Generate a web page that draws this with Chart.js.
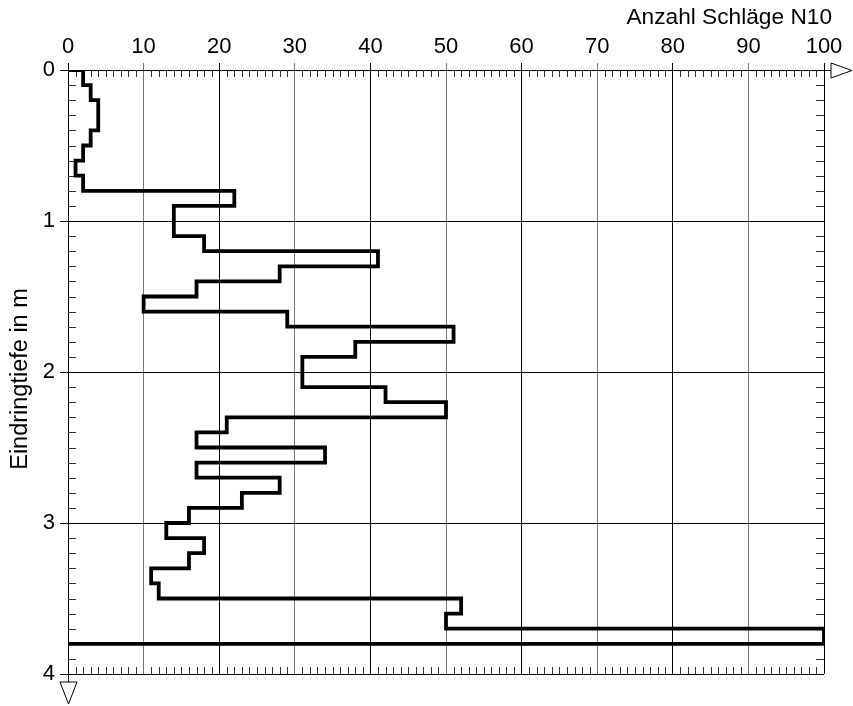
<!DOCTYPE html>
<html lang="de">
<head>
    <meta charset="UTF-8">
    <title>Rammsondierung</title>
    <script src="https://cdn.jsdelivr.net/npm/chart.js"></script>
    <style>
        html, body { margin: 0; padding: 0; background: #fff; }
        .chart-box { width: 853px; height: 706px; }
    </style>
</head>
<body>
    <div class="chart-box">
        <canvas id="sondierung"></canvas>
    </div>

    <script>
        // Oberkante jeder 10-cm-Schicht (m) und Schlagzahl N10
        const depthTop = [0.0, 0.1, 0.2, 0.3, 0.4, 0.5, 0.6, 0.7, 0.8, 0.9,
                          1.0, 1.1, 1.2, 1.3, 1.4, 1.5, 1.6, 1.7, 1.8, 1.9,
                          2.0, 2.1, 2.2, 2.3, 2.4, 2.5, 2.6, 2.7, 2.8, 2.9,
                          3.0, 3.1, 3.2, 3.3, 3.4, 3.5, 3.6, 3.7];
        const layerHeight = 0.1;
        const blows = [2, 3, 4, 4, 3, 2, 1, 2, 22, 14,
                       14, 18, 41, 28, 17, 10, 29, 51, 38, 31,
                       31, 42, 50, 21, 17, 34, 17, 28, 23, 16,
                       13, 18, 16, 11, 12, 52, 50, 100];
        const xTicks = [0, 10, 20, 30, 40, 50, 60, 70, 80, 90, 100];
        const yTicks = [0, 1, 2, 3, 4];

        const FONT = "'Liberation Sans', Arial, sans-serif";

        // Treppenlinie aus den Schichten aufbauen
        const points = [{ x: 0, y: depthTop[0] }];
        blows.forEach((n, i) => {
            points.push({ x: n, y: depthTop[i] });
            points.push({ x: n, y: depthTop[i] + layerHeight });
        });
        points.push({ x: 0, y: depthTop[depthTop.length - 1] + layerHeight });

        // Feinteilung, Pfeile und Achsentitel
        const decorations = {
            id: 'decorations',
            beforeDatasetsDraw(chart) {
                const { ctx, chartArea: a, scales: { x, y } } = chart;
                ctx.save();
                ctx.strokeStyle = '#333';
                ctx.lineWidth = 1;
                ctx.beginPath();
                for (let v = 1; v < 100; v++) {
                    if (v % 10 === 0) continue;
                    const px = Math.round(x.getPixelForValue(v)) + 0.5;
                    ctx.moveTo(px, a.top);
                    ctx.lineTo(px, a.top + 7);
                    ctx.moveTo(px, a.bottom);
                    ctx.lineTo(px, a.bottom - 7);
                }
                for (let k = 1; k < 40; k++) {
                    if (k % 10 === 0) continue;
                    const py = Math.round(y.getPixelForValue(k / 10)) + 0.5;
                    ctx.moveTo(a.left, py);
                    ctx.lineTo(a.left + 8, py);
                    ctx.moveTo(a.right, py);
                    ctx.lineTo(a.right - 8, py);
                }
                ctx.stroke();
                ctx.restore();
            },
            afterDraw(chart) {
                const { ctx, chartArea: a } = chart;
                ctx.save();
                ctx.strokeStyle = '#000';
                ctx.fillStyle = '#fff';
                ctx.lineWidth = 1;

                // Pfeil rechts
                ctx.beginPath();
                ctx.moveTo(a.right, a.top + 0.5);
                ctx.lineTo(a.right + 7, a.top + 0.5);
                ctx.stroke();
                ctx.beginPath();
                ctx.moveTo(a.right + 7, a.top - 7);
                ctx.lineTo(a.right + 28, a.top + 0.5);
                ctx.lineTo(a.right + 7, a.top + 8);
                ctx.closePath();
                ctx.fill();
                ctx.stroke();

                // Pfeil unten
                ctx.beginPath();
                ctx.moveTo(a.left + 0.5, a.bottom);
                ctx.lineTo(a.left + 0.5, a.bottom + 8);
                ctx.stroke();
                ctx.beginPath();
                ctx.moveTo(a.left - 8, a.bottom + 8);
                ctx.lineTo(a.left + 9, a.bottom + 8);
                ctx.lineTo(a.left + 0.5, a.bottom + 30);
                ctx.closePath();
                ctx.fill();
                ctx.stroke();

                // Achsentitel
                ctx.fillStyle = '#000';
                ctx.textBaseline = 'alphabetic';
                ctx.font = '22.7px ' + FONT;
                ctx.textAlign = 'right';
                ctx.fillText('Anzahl Schläge N10', 832, 24);

                ctx.font = '23.5px ' + FONT;
                ctx.translate(27, 379);
                ctx.rotate(-Math.PI / 2);
                ctx.textAlign = 'center';
                ctx.fillText('Eindringtiefe in m', 0, 0);
                ctx.restore();
            }
        };

        const ctx = document.getElementById('sondierung').getContext('2d');
        new Chart(ctx, {
            type: 'scatter',
            data: {
                datasets: [{
                    label: 'N10',
                    data: points,
                    showLine: true,
                    borderColor: '#000',
                    borderWidth: 3.8,
                    borderJoinStyle: 'miter',
                    borderCapStyle: 'square',
                    pointRadius: 0,
                    fill: false,
                    tension: 0
                }]
            },
            options: {
                responsive: true,
                maintainAspectRatio: false,
                animation: false,
                layout: { padding: { left: 0, top: 0, right: 29, bottom: 32 } },
                plugins: {
                    legend: { display: false },
                    tooltip: { enabled: false }
                },
                scales: {
                    x: {
                        type: 'linear',
                        position: 'top',
                        min: 0,
                        max: 100,
                        afterFit: s => { s.height = 70; },
                        afterBuildTicks: s => { s.ticks = xTicks.map(v => ({ value: v })); },
                        ticks: {
                            color: '#000',
                            padding: 3,
                            maxRotation: 0,
                            font: { family: FONT, size: 22 }
                        },
                        grid: {
                            color: c => (c.tick && c.tick.value % 20 === 10) ? '#777' : '#000',
                            lineWidth: 1,
                            tickLength: 7
                        },
                        border: { display: true, color: '#000', width: 1 }
                    },
                    y: {
                        type: 'linear',
                        reverse: true,
                        min: 0,
                        max: 4,
                        afterFit: s => { s.width = 68; },
                        afterBuildTicks: s => { s.ticks = yTicks.map(v => ({ value: v })); },
                        ticks: {
                            color: '#000',
                            padding: 5,
                            font: { family: FONT, size: 22 }
                        },
                        grid: {
                            color: '#000',
                            lineWidth: 1,
                            tickLength: 8
                        },
                        border: { display: true, color: '#000', width: 1 }
                    }
                }
            },
            plugins: [decorations]
        });
    </script>
</body>
</html>
